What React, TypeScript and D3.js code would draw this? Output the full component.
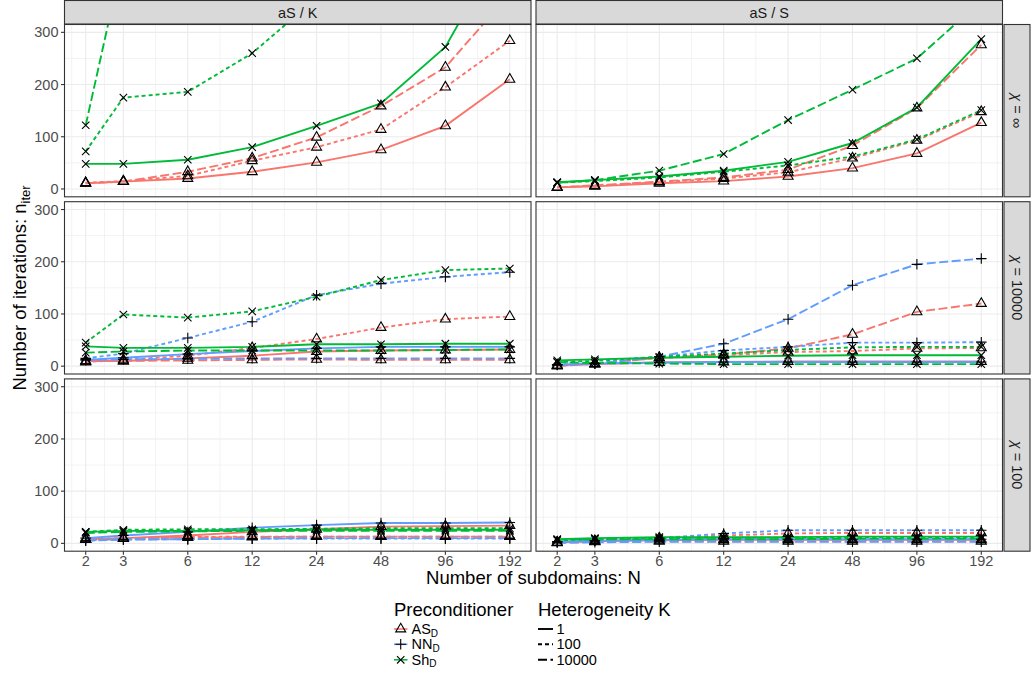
import React from "react";
import * as d3 from "d3";

// ---------- data ----------
const Ns = [2, 3, 6, 12, 24, 48, 96, 192];
const methodLabels = ["aS / K", "aS / S"];
const chiLabels = ["∞", "10000", "100"];
const precLabels = ["AS", "NN", "Sh"];
const precColors = ["#F8766D", "#619CFF", "#00BA38"];
const kLabels = ["1", "100", "10000"];
const kDash = ["none", "4,3", "9,3.5"];
const yTicks = [0, 100, 200, 300];
const yMinor = [50, 150, 250];
const xMinor = [1.72, 2.449, 4.243, 8.485, 16.97, 33.94, 67.88, 135.76, 228];

// Each panel: rows = AS(K=1,100,10000), NN(K=1,100,10000), Sh(K=1,100,10000)
const aSK_chiInf = [
  [11, 14, 20, 33, 51, 75, 121, 210],
  [12, 15, 25, 54, 80, 114, 195, 284],
  [11, 14, 33, 59, 99, 159, 233, 374],
  null,
  null,
  null,
  [48, 48, 56, 80, 121, 164, 272, 490],
  [72, 175, 186, 260, 366, 480, 600, 700],
  [122, 447, 600, 700, 800, 900, 1000, 1100],
];
const aSS_chiInf = [
  [3, 5, 11, 15, 24, 40, 68, 127],
  [3, 6, 13, 20, 32, 59, 93, 148],
  [3, 7, 14, 22, 37, 83, 155, 276],
  null,
  null,
  null,
  [13, 17, 24, 35, 52, 88, 156, 287],
  [12, 15, 22, 33, 45, 62, 95, 151],
  [12, 17, 35, 67, 132, 190, 250, 360],
];
const aSK_chi10000 = [
  [10, 10, 15, 20, 28, 30, 31, 32],
  [8, 12, 20, 35, 52, 74, 90, 95],
  [10, 10, 11, 12, 13, 12, 12, 12],
  [12, 16, 23, 29, 34, 37, 37, 37],
  [15, 24, 54, 85, 136, 158, 171, 180],
  [12, 13, 14, 15, 15, 15, 15, 15],
  [38, 35, 35, 37, 42, 42, 43, 43],
  [45, 99, 93, 105, 133, 165, 184, 187],
  [26, 28, 30, 30, 30, 30, 31, 32],
];
const aSS_chi10000 = [
  [2, 4, 7, 8, 9, 9, 9, 9],
  [1, 4, 16, 21, 27, 29, 34, 35],
  [0, 5, 16, 22, 34, 61, 104, 120],
  [3, 5, 7, 8, 8, 8, 8, 8],
  [3, 5, 18, 30, 37, 45, 45, 46],
  [2, 5, 18, 43, 90, 155, 195, 206],
  [11, 13, 16, 18, 20, 21, 21, 21],
  [8, 10, 18, 24, 31, 36, 37, 37],
  [8, 6, 5, 4, 4, 4, 4, 4],
];
const aSK_chi100 = [
  [8, 10, 15, 22, 27, 32, 33, 34],
  [8, 10, 12, 13, 13, 13, 13, 13],
  [8, 9, 11, 12, 13, 13, 13, 13],
  [10, 15, 22, 30, 35, 39, 39, 40],
  [6, 8, 8, 9, 9, 9, 9, 9],
  [5, 7, 8, 9, 10, 10, 10, 10],
  [22, 24, 24, 25, 26, 26, 26, 26],
  [22, 26, 27, 27, 28, 29, 29, 29],
  [20, 22, 23, 24, 24, 24, 24, 24],
];
const aSS_chi100 = [
  [2, 4, 6, 7, 7, 7, 7, 7],
  [2, 5, 10, 15, 19, 20, 20, 20],
  [1, 3, 4, 4, 4, 4, 4, 4],
  [3, 5, 7, 8, 8, 8, 8, 8],
  [3, 5, 10, 19, 25, 25, 25, 25],
  [1, 2, 3, 3, 3, 3, 3, 3],
  [8, 10, 12, 12, 12, 13, 13, 13],
  [6, 8, 10, 11, 11, 12, 12, 12],
  [7, 8, 8, 8, 8, 9, 9, 9],
];
const panelData = [
  [aSK_chiInf, aSS_chiInf],
  [aSK_chi10000, aSS_chi10000],
  [aSK_chi100, aSS_chi100],
];

// ---------- layout ----------
const FONT = "'Liberation Sans', Arial, Helvetica, sans-serif";
const colX = [64.5, 536];
const panelW = 466.5;
const rowY = [24.5, 201.7, 378.9];
const panelH = 172.3;
const GRID = "#EBEBEB";
const DARK = "#333333";

const logLo = 1 - 0.05 * (Math.log2(192) - 1);
const logHi = Math.log2(192) + 0.05 * (Math.log2(192) - 1);

function markerPath(shape: number) {
  const xc = 3.71;
  if (shape === 0) {
    const r = 1.5551 * xc, yc = 0.7776 * xc, xc2 = 1.3468 * xc;
    return `M0,${-r}L${xc2},${yc}L${-xc2},${yc}Z`;
  }
  if (shape === 1) {
    const a = 1.4142 * xc;
    return `M${-a},0H${a}M0,${-a}V${a}`;
  }
  return `M${-xc},${-xc}L${xc},${xc}M${-xc},${xc}L${xc},${-xc}`;
}

function Panel({ row, col }: { row: number; col: number }) {
  const x0 = colX[col];
  const y0 = rowY[row];
  const x = d3.scaleLog().base(2).domain([2 ** logLo, 2 ** logHi]).range([x0, x0 + panelW]);
  const y = d3.scaleLinear().domain([-15, 315]).range([y0 + panelH, y0]);
  const data = panelData[row][col];
  const line = d3
    .line<number>()
    .x((_, i) => x(Ns[i]))
    .y((d) => y(d));
  const clipId = `clip-${row}-${col}`;
  const series = data
    .map((vals, idx) => ({ vals, prec: Math.floor(idx / 3), k: idx % 3 }))
    .filter((s) => s.vals);
  return (
    <g>
      <defs>
        <clipPath id={clipId}>
          <rect x={x0} y={y0} width={panelW} height={panelH} />
        </clipPath>
      </defs>
      <rect x={x0} y={y0} width={panelW} height={panelH} fill="#fff" />
      {yMinor.map((v) => (
        <line key={"ym" + v} x1={x0} x2={x0 + panelW} y1={y(v)} y2={y(v)} stroke={GRID} strokeWidth={0.6} />
      ))}
      {xMinor.map((v) => (
        <line key={"xm" + v} x1={x(v)} x2={x(v)} y1={y0} y2={y0 + panelH} stroke={GRID} strokeWidth={0.6} />
      ))}
      {yTicks.map((v) => (
        <line key={"y" + v} x1={x0} x2={x0 + panelW} y1={y(v)} y2={y(v)} stroke={GRID} strokeWidth={1.1} />
      ))}
      {Ns.map((v) => (
        <line key={"x" + v} x1={x(v)} x2={x(v)} y1={y0} y2={y0 + panelH} stroke={GRID} strokeWidth={1.1} />
      ))}
      <g clipPath={`url(#${clipId})`}>
        {series.map((s, i) => (
          <path
            key={"l" + i}
            d={line(s.vals as number[]) || ""}
            fill="none"
            stroke={precColors[s.prec]}
            strokeWidth={1.9}
            strokeDasharray={kDash[s.k]}
          />
        ))}
        {series.map((s, i) =>
          (s.vals as number[]).map((v, j) => (
            <path
              key={`p${i}-${j}`}
              d={markerPath(s.prec)}
              transform={`translate(${x(Ns[j])},${y(v)})`}
              fill="none"
              stroke="#000"
              strokeWidth={1.1}
            />
          ))
        )}
      </g>
      <rect x={x0} y={y0} width={panelW} height={panelH} fill="none" stroke={DARK} strokeWidth={1.1} />
      {col === 0 &&
        yTicks.map((v) => (
          <g key={"yt" + v}>
            <line x1={x0 - 3.5} x2={x0} y1={y(v)} y2={y(v)} stroke={DARK} strokeWidth={1.1} />
            <text x={x0 - 6} y={y(v) + 5} textAnchor="end" fontSize={14.5} fill="#4D4D4D" fontFamily={FONT}>
              {v}
            </text>
          </g>
        ))}
      {row === 2 &&
        Ns.map((v) => (
          <g key={"xt" + v}>
            <line x1={x(v)} x2={x(v)} y1={y0 + panelH} y2={y0 + panelH + 3.5} stroke={DARK} strokeWidth={1.1} />
            <text x={x(v)} y={566} textAnchor="middle" fontSize={14.5} fill="#4D4D4D" fontFamily={FONT}>
              {v}
            </text>
          </g>
        ))}
    </g>
  );
}

export default function App() {
  const precKeyY = [629, 644.3, 659.8];
  return (
    <svg
      width={1032}
      height={675}
      style={{ position: "absolute", left: 0, top: 0, display: "block", background: "#fff" }}
      fontFamily={FONT}
    >
      <rect width={1032} height={675} fill="#fff" />
      {[0, 1, 2].map((r) => [0, 1].map((c) => <Panel key={`${r}-${c}`} row={r} col={c} />))}
      {/* top strips */}
      {methodLabels.map((m, c) => (
        <g key={"ts" + c}>
          <rect x={colX[c]} y={0.5} width={panelW} height={23.5} fill="#D9D9D9" stroke={DARK} strokeWidth={1.1} />
          <text x={colX[c] + panelW / 2} y={18} textAnchor="middle" fontSize={14.5} fill="#1A1A1A">
            {m}
          </text>
        </g>
      ))}
      {/* right strips */}
      {chiLabels.map((ch, r) => (
        <g key={"rs" + r}>
          <rect x={1004} y={rowY[r]} width={26} height={panelH} fill="#D9D9D9" stroke={DARK} strokeWidth={1.1} />
          <text
            transform={`translate(1017,${rowY[r] + panelH / 2}) rotate(90)`}
            textAnchor="middle"
            dominantBaseline="central"
            fontSize={14.5}
            fill="#1A1A1A"
          >
            <tspan fontStyle="italic">χ</tspan>
            {" = " + ch}
          </text>
        </g>
      ))}
      {/* axis titles */}
      <text x={533.5} y={584} textAnchor="middle" fontSize={18.5} fill="#000">
        Number of subdomains: N
      </text>
      <text transform="translate(26,288) rotate(-90)" textAnchor="middle" fontSize={18.5} fill="#000">
        Number of iterations: n
        <tspan fontSize={13} dy={4}>
          iter
        </tspan>
      </text>
      {/* legend: preconditioner */}
      <text x={394} y={616} fontSize={18.5} fill="#000">
        Preconditioner
      </text>
      {precLabels.map((p, i) => (
        <g key={"lp" + i}>
          <line x1={394} x2={407.5} y1={precKeyY[i]} y2={precKeyY[i]} stroke={precColors[i]} strokeWidth={1.6} />
          <path
            d={markerPath(i)}
            transform={`translate(400.7,${precKeyY[i]})`}
            fill="none"
            stroke="#000"
            strokeWidth={1.1}
          />
          <text x={411.5} y={precKeyY[i] + 4.7} fontSize={14.5} fill="#000">
            {p}
            <tspan fontSize={10} dy={2.8}>
              D
            </tspan>
          </text>
        </g>
      ))}
      {/* legend: heterogeneity */}
      <text x={538} y={616} fontSize={18.5} fill="#000">
        Heterogeneity K
      </text>
      {kLabels.map((k, i) => (
        <g key={"lk" + i}>
          <line
            x1={538}
            x2={553}
            y1={precKeyY[i]}
            y2={precKeyY[i]}
            stroke="#000"
            strokeWidth={1.9}
            strokeDasharray={kDash[i]}
          />
          <text x={556.5} y={precKeyY[i] + 4.7} fontSize={14.5} fill="#000">
            {k}
          </text>
        </g>
      ))}
    </svg>
  );
}
